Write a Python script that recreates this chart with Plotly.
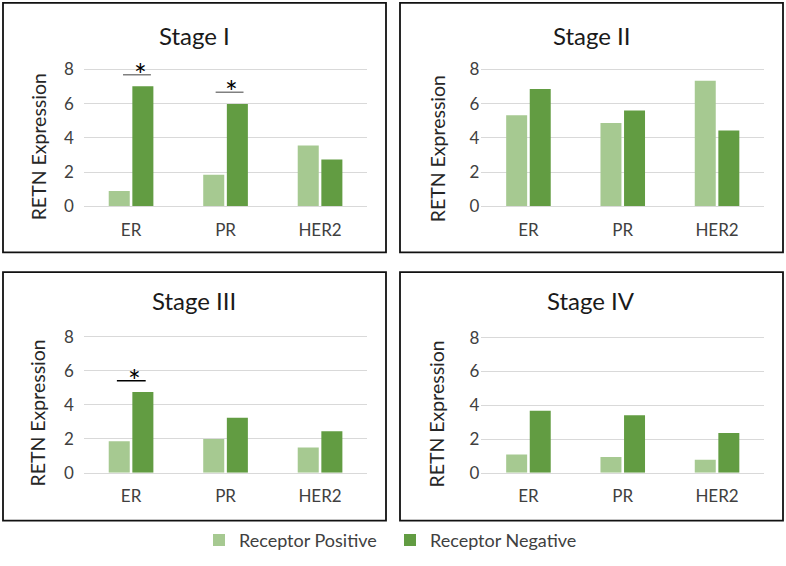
import plotly.graph_objects as go

W, H = 786, 566

categories = ["ER", "PR", "HER2"]
stage_titles = ["Stage I", "Stage II", "Stage III", "Stage IV"]
series_names = ["Receptor Positive", "Receptor Negative"]

stage1_pos = [0.90, 1.84, 3.55]
stage1_neg = [7.03, 5.98, 2.74]
stage2_pos = [5.33, 4.87, 7.34]
stage2_neg = [6.86, 5.61, 4.44]
stage3_pos = [1.85, 1.98, 1.48]
stage3_neg = [4.75, 3.23, 2.44]
stage4_pos = [1.09, 0.93, 0.77]
stage4_neg = [3.67, 3.40, 2.35]

y_ticks = [0, 2, 4, 6, 8]

# significance markers: (panel index, category index, line y value)
sig_stage = [0, 0, 2]
sig_cat = [0, 1, 0]
sig_level = [7.7, 6.67, 5.4]

POS_COLOR = "#A6C991"
NEG_COLOR = "#629C42"
FONT = "Lato"

pos_vals = [stage1_pos, stage2_pos, stage3_pos, stage4_pos]
neg_vals = [stage1_neg, stage2_neg, stage3_neg, stage4_neg]

# panel geometry in pixels
plot_x = [(83.8, 367.3), (481.3, 764.2), (83.8, 367.3), (481.3, 764.2)]
plot_y0 = [210, 210, 481.3, 481.3]
px_unit = [17.4, 17.4, 17.33, 17.2]
YMAX = 8.8
borders = [(3, 3, 386, 257), (400, 3, 783, 257), (3, 277, 386, 530), (400, 277, 783, 530)]
title_pos = [(194.5, 36), (591.5, 36), (194, 306), (591, 306)]
ytitle_pos = [(38, 150), (437, 151), (38, 421), (437, 421)]
ystandoff = [9, 1, 9, 1]

def px(x):
    return x / W

def py(y):
    return 1 - y / H

fig = go.Figure()
xs = list(range(len(categories)))
layout = dict(
    width=W, height=H, autosize=False,
    margin=dict(l=0, r=0, t=0, b=0),
    paper_bgcolor="white", plot_bgcolor="white",
    barmode="group", bargap=0.5, bargroupgap=0.11,
    font=dict(family=FONT, color="#262626"),
    showlegend=True,
    legend=dict(orientation="h", x=px(199), y=py(550), xanchor="left", yanchor="middle",
                font=dict(size=18, color="#404040"), entrywidth=146, itemwidth=30,
                traceorder="normal"),
)
shapes = []
annotations = []

for i in range(4):
    sfx = "" if i == 0 else str(i + 1)
    xa, ya = "x" + sfx, "y" + sfx
    for vals, name, col in ((pos_vals[i], series_names[0], POS_COLOR),
                            (neg_vals[i], series_names[1], NEG_COLOR)):
        fig.add_trace(go.Bar(x=xs, y=vals, name=name, marker=dict(color=col, line=dict(width=0)),
                             xaxis=xa, yaxis=ya, showlegend=(i == 0), legendgroup=name))
    x0, x1 = plot_x[i]
    ytop = plot_y0[i] - YMAX * px_unit[i]
    layout["xaxis" + sfx] = dict(
        domain=[px(x0), px(x1)], range=[-0.5, 2.5], anchor=ya,
        tickvals=xs, ticktext=categories, showgrid=False, zeroline=False,
        showline=True, linecolor="#D9D9D9", linewidth=1, ticks="",
        ticklabelstandoff=8, tickfont=dict(size=17, color="#404040"), fixedrange=True)
    layout["yaxis" + sfx] = dict(
        domain=[py(plot_y0[i]), py(ytop)], range=[0, YMAX], anchor=xa,
        tickvals=y_ticks, showgrid=True, gridcolor="#D9D9D9", gridwidth=1,
        zeroline=False, showline=False, ticks="", ticklabelstandoff=ystandoff[i],
        tickfont=dict(size=17, color="#404040"), fixedrange=True)
    bx0, by0, bx1, by1 = borders[i]
    shapes.append(dict(type="rect", xref="paper", yref="paper",
                       x0=px(bx0), x1=px(bx1), y0=py(by1), y1=py(by0),
                       line=dict(color="#111111", width=1.8), fillcolor="rgba(0,0,0,0)"))
    tx, ty = title_pos[i]
    annotations.append(dict(text=stage_titles[i], xref="paper", yref="paper",
                            x=px(tx), y=py(ty), xanchor="center", yanchor="middle",
                            showarrow=False, font=dict(size=24, color="#1a1a1a")))
    ax_, ay_ = ytitle_pos[i]
    annotations.append(dict(text="RETN Expression", xref="paper", yref="paper",
                            x=px(ax_), y=py(ay_), xanchor="center", yanchor="middle",
                            textangle=-90, showarrow=False,
                            font=dict(size=19.5, color="#262626")))

# significance bars and asterisks
sig_line_color = ["#808080", "#808080", "#000000"]
for k in range(len(sig_stage)):
    i = sig_stage[k]
    sfx = "" if i == 0 else str(i + 1)
    c = sig_cat[k]
    lvl = sig_level[k]
    if i == 2:
        lx0, lx1, axo = c - 0.15, c + 0.155, c + 0.04
    elif k == 0:
        lx0, lx1, axo = c - 0.085, c + 0.21, c + 0.095
    else:
        lx0, lx1, axo = c - 0.105, c + 0.19, c + 0.06
    shapes.append(dict(type="line", xref="x" + sfx, yref="y" + sfx,
                       x0=lx0, x1=lx1, y0=lvl, y1=lvl,
                       line=dict(color=sig_line_color[k], width=1.5)))
    annotations.append(dict(text="*", xref="x" + sfx, yref="y" + sfx,
                            x=axo, y=lvl, xanchor="center", yanchor="middle",
                            yshift=1, showarrow=False,
                            font=dict(size=30, color="#000000")))

layout["shapes"] = shapes
layout["annotations"] = annotations
fig.update_layout(**layout)
fig.write_html("out.html", config={"displayModeBar": False},
               post_script="document.body.style.margin='0';document.body.style.overflow='hidden';")
